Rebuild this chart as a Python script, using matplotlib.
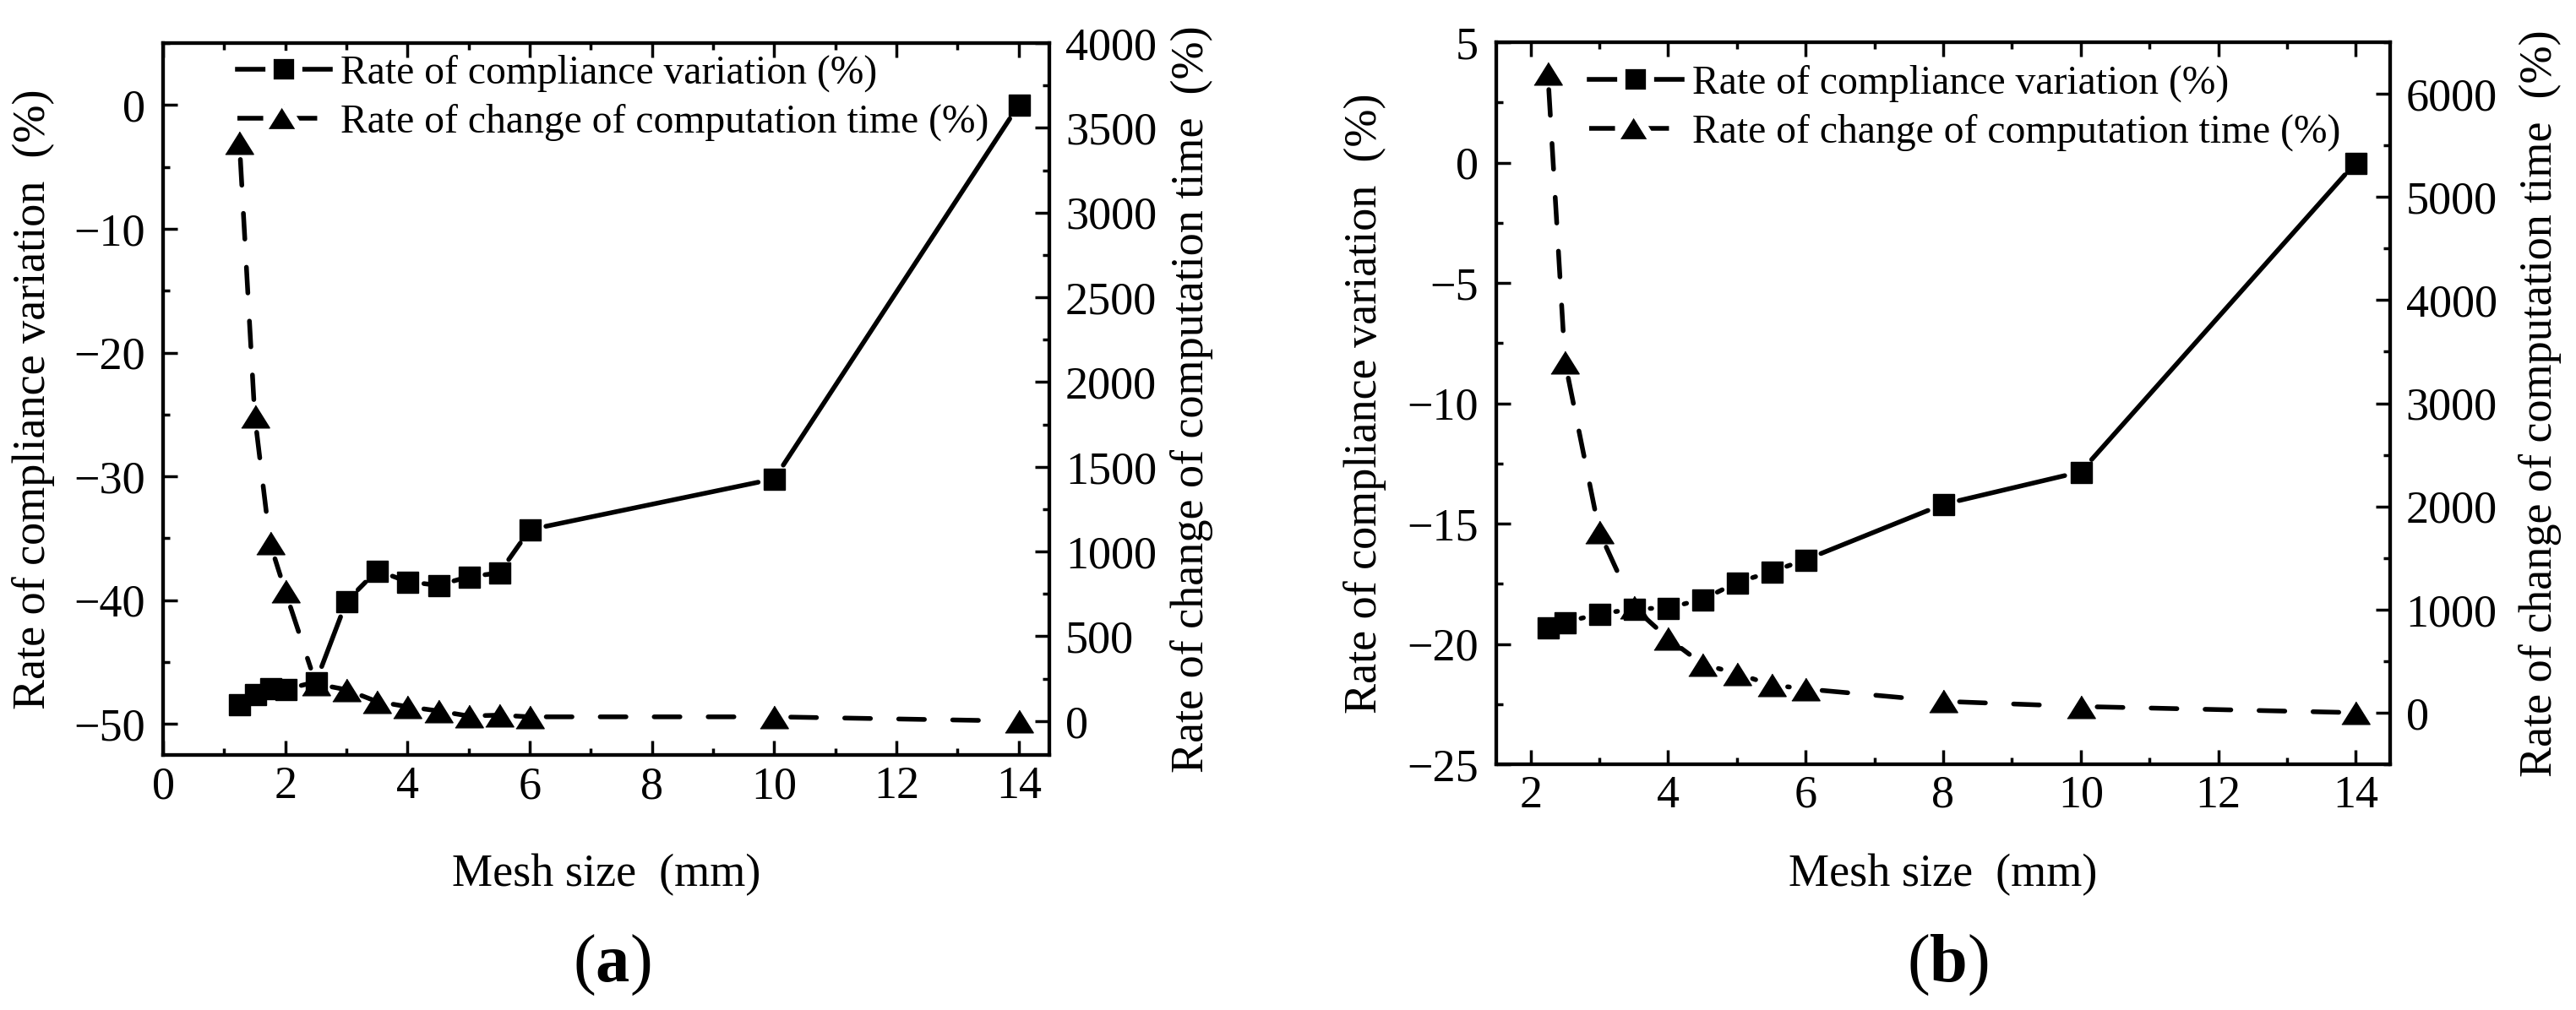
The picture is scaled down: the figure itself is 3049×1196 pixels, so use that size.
import matplotlib
matplotlib.use("Agg")
import matplotlib.pyplot as plt
from matplotlib.lines import Line2D
from matplotlib.ticker import MultipleLocator

plt.rcParams["font.family"] = ["Liberation Serif", "DejaVu Serif"]
plt.rcParams["mathtext.fontset"] = "custom"
plt.rcParams["mathtext.rm"] = "Liberation Serif"
plt.rcParams["mathtext.bf"] = "Liberation Serif:bold"

# panel (a)
mesh_a = [1.25, 1.5, 1.75, 2, 2.5, 3, 3.5, 4, 4.5, 5, 5.5, 6, 10, 14]
compliance_a = [-48.4, -47.6, -47.1, -47.2, -46.6, -40.1, -37.6, -38.5,
                -38.8, -38.1, -37.8, -34.3, -30.2, 0.0]
time_a = [3410, 1800, 1050, 765, 220, 185, 115, 85, 60, 30, 35, 25, 25, 0]

# panel (b)
mesh_b = [2.25, 2.5, 3, 3.5, 4, 4.5, 5, 5.5, 6, 8, 10, 14]
compliance_b = [-19.3, -19.1, -18.75, -18.55, -18.5, -18.15, -17.45, -17.0,
                -16.5, -14.2, -12.85, 0.0]
time_b = [6200, 3400, 1750, 1020, 720, 470, 380, 270, 230, 110, 60, 0]

legend_labels = ["Rate of compliance variation (%)",
                 "Rate of change of computation time (%)"]

LW = 4.0
GAP = 14
DASH = (0, (5.5, 6))
FS = 39
TRI = [(-1, -0.8), (1, -0.8), (0, 0.8)]


def connect(ax, xs, ys, ls):
    # Origin style: line segments stop short of the symbols
    for i in range(len(xs) - 1):
        ax.annotate("", xy=(xs[i + 1], ys[i + 1]), xytext=(xs[i], ys[i]),
                    arrowprops=dict(arrowstyle="-", shrinkA=GAP, shrinkB=GAP,
                                    lw=LW, color="black", linestyle=ls,
                                    capstyle="round"))


def panel(fig, rect, mesh, comp, time, xlim, ylim, ymaj, y2lim, y2maj,
          ylab_x, y2lab_x, xlab_y, leg_xy, tag, tag_xy):
    ax = fig.add_axes(rect)
    ax2 = ax.twinx()

    connect(ax, mesh, comp, "-")
    ax.plot(mesh, comp, ls="none", marker="s", ms=18, color="black")
    connect(ax2, mesh, time, DASH)
    ax2.plot(mesh, time, ls="none", marker=TRI, ms=24, color="black")

    ax.set_xlim(*xlim)
    ax.set_ylim(*ylim)
    ax2.set_ylim(*y2lim)
    ax.xaxis.set_major_locator(MultipleLocator(2))
    ax.xaxis.set_minor_locator(MultipleLocator(1))
    ax.yaxis.set_major_locator(MultipleLocator(ymaj))
    ax.yaxis.set_minor_locator(MultipleLocator(ymaj / 2))
    ax2.yaxis.set_major_locator(MultipleLocator(y2maj))
    ax2.yaxis.set_minor_locator(MultipleLocator(y2maj / 2))

    ax.tick_params(which="both", direction="in", top=True, right=False,
                   width=2.5, labelsize=FS)
    ax.tick_params(which="major", length=12)
    ax.tick_params(which="minor", length=6)
    ax.tick_params(axis="y", pad=15)
    ax.tick_params(axis="x", pad=9)
    ax2.tick_params(which="both", direction="in", width=2.5, labelsize=FS,
                    pad=13.5)
    ax2.tick_params(which="major", length=12)
    ax2.tick_params(which="minor", length=6)
    for a in (ax, ax2):
        for s in a.spines.values():
            s.set_linewidth(3)

    ax.set_xlabel("Mesh size  (mm)", fontsize=FS, va="center")
    ax.xaxis.set_label_coords(0.5, xlab_y)
    ax.set_ylabel("Rate of compliance variation  (%)", fontsize=FS,
                  va="center")
    ax.yaxis.set_label_coords(ylab_x, 0.5)
    ax2.set_ylabel("Rate of change of computation time  (%)", fontsize=FS,
                   va="center", rotation=90)
    ax2.yaxis.set_label_coords(y2lab_x, 0.5)

    # white marker edge leaves a small gap between symbol and line
    handles = [
        Line2D([], [], color="black", lw=LW, ls="-", marker="s", ms=25,
               mec="white", mew=7, mfc="black"),
        Line2D([], [], color="black", lw=LW, ls=DASH, marker=TRI, ms=31,
               mec="white", mew=7, mfc="black"),
    ]
    ax2.legend(handles, legend_labels, loc="upper left",
               bbox_to_anchor=leg_xy, frameon=False, fontsize=34.3,
               borderpad=0, borderaxespad=0, handlelength=2.3,
               handletextpad=0.25, labelspacing=0.28)

    fig.text(tag_xy[0], tag_xy[1], "(" + r"$\mathbf{" + tag + "}$" + ")",
             fontsize=58, ha="center", va="center")


fig = plt.figure(figsize=(30.49, 11.96), dpi=100)

panel(fig, [193 / 3049, 1 - 894 / 1196, 1049 / 3049, 843 / 1196],
      mesh_a, compliance_a, time_a,
      xlim=(0, 14.5), ylim=(-52.5, 5), ymaj=10, y2lim=(-200, 4000),
      y2maj=500, ylab_x=-0.146, y2lab_x=1.161, xlab_y=-0.168,
      leg_xy=(0.084, 0.984), tag="a",
      tag_xy=(724 / 3049, 1 - 1143 / 1196))

panel(fig, [1771 / 3049, 1 - 905 / 1196, 1058 / 3049, 855 / 1196],
      mesh_b, compliance_b, time_b,
      xlim=(1.5, 14.5), ylim=(-25, 5), ymaj=5, y2lim=(-500, 6500),
      y2maj=1000, ylab_x=-0.147, y2lab_x=1.168, xlab_y=-0.153,
      leg_xy=(0.104, 0.969), tag="b",
      tag_xy=(2305 / 3049, 1 - 1143 / 1196))

fig.savefig("out.png", dpi=100)
